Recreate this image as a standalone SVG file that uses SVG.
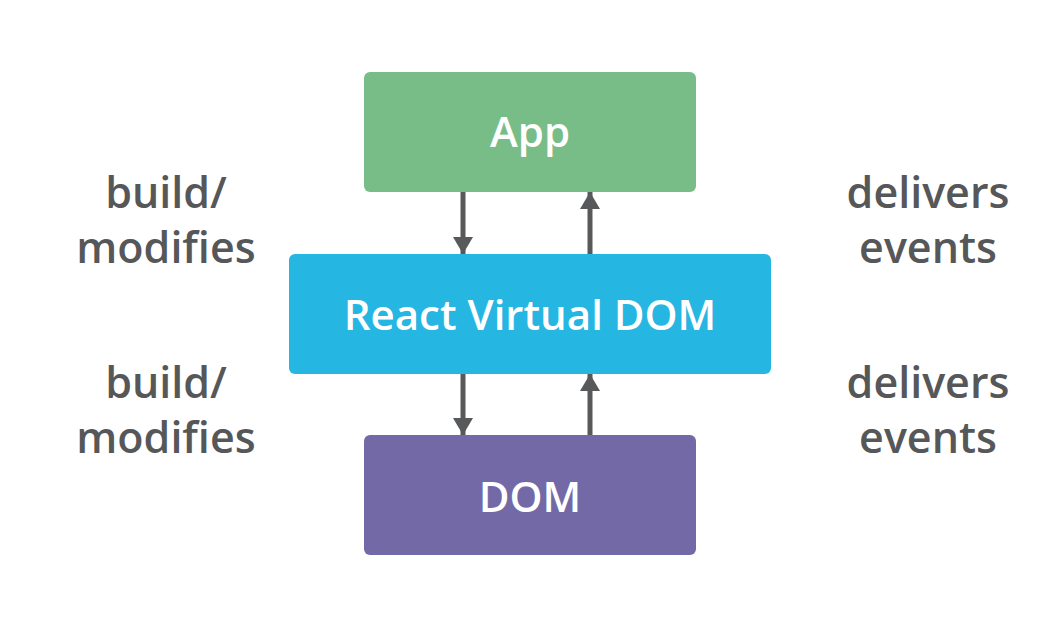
<svg xmlns="http://www.w3.org/2000/svg" width="1053" height="627" viewBox="0 0 1053 627">
<style>
.box text{font-family:"Open Sans","Noto Sans","Liberation Sans",sans-serif;font-weight:600;fill:#ffffff;text-anchor:middle;font-size:42px}
.lbl{font-family:"Open Sans","Noto Sans","Liberation Sans",sans-serif;font-weight:600;fill:#555759;text-anchor:middle;font-size:43px}
.conn line{stroke:#58595b;stroke-width:5}
</style>
<defs>
<marker id="ah" viewBox="0 0 17 20" refX="17" refY="10" markerWidth="17" markerHeight="20" markerUnits="userSpaceOnUse" orient="auto">
<path d="M0,0 L17,10 L0,20 Z" fill="#58595b"/>
</marker>
</defs>
<rect width="1053" height="627" fill="#ffffff"/>
<g id="app" class="box">
<rect x="364" y="72" width="332" height="120" rx="6" fill="#78bd88"/>
<text x="530" y="147">App</text>
</g>
<g id="vdom" class="box">
<rect x="289" y="254" width="482" height="120" rx="6" fill="#26b6e2"/>
<text x="530" y="330">React Virtual DOM</text>
</g>
<g id="dom" class="box">
<rect x="364" y="435" width="332" height="120" rx="6" fill="#7469a7"/>
<text x="530" y="512">DOM</text>
</g>
<g id="connectors" class="conn">
<line x1="463" y1="192" x2="463" y2="254" marker-end="url(#ah)"/>
<line x1="590" y1="254" x2="590" y2="192" marker-end="url(#ah)"/>
<line x1="463" y1="374" x2="463" y2="435" marker-end="url(#ah)"/>
<line x1="590" y1="435" x2="590" y2="374" marker-end="url(#ah)"/>
</g>
<g id="labels">
<text class="lbl" x="166" y="208">build/</text>
<text class="lbl" x="166" y="263">modifies</text>
<text class="lbl" x="928" y="208">delivers</text>
<text class="lbl" x="928" y="263">events</text>
<text class="lbl" x="166" y="398">build/</text>
<text class="lbl" x="166" y="453">modifies</text>
<text class="lbl" x="928" y="398">delivers</text>
<text class="lbl" x="928" y="453">events</text>
</g>
</svg>
